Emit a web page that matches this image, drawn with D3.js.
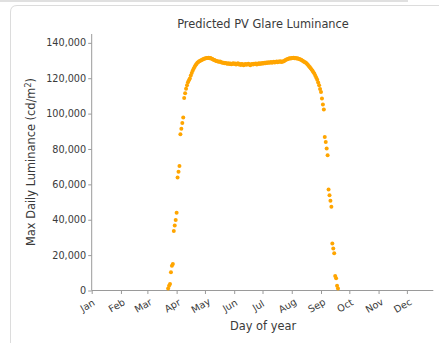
<!DOCTYPE html>
<html><head><meta charset="utf-8">
<script src="https://cdn.jsdelivr.net/npm/d3@7"></script>
<style>
html,body{margin:0;padding:0;background:#fff;}
svg{display:block;font-family:"DejaVu Sans",sans-serif;}
</style></head>
<body>
<svg id="c" width="439" height="343"></svg>
<script>
// ---- data ----
const monthLabels = ["Jan","Feb","Mar","Apr","May","Jun","Jul","Aug","Sep","Oct","Nov","Dec"];
const monthStartDays = [0,31,59,90,120,151,181,212,243,273,304,334];
const yTicks = [0,20000,40000,60000,80000,100000,120000,140000];
const firstDay = 81;
const luminance = [
 1200,2700,3700,10300,14000,15000,33600,36800,39800,43900,
 63900,67100,70400,88300,91500,94700,97800,108800,111500,114100,
 116000,117700,118900,119800,121500,123000,124200,125300,126400,127300,
 128000,128700,129200,129600,129900,130200,130500,130700,131000,131200,
 131300,131500,131400,131600,131300,131400,131000,130800,130400,130300,
 130000,129800,129600,129500,129300,129400,129000,128900,128700,128800,
 128500,128600,128300,128200,128500,128100,128300,127900,128200,128400,
 128000,128300,127700,128100,128400,127800,128000,127500,128100,127900,
 127300,127700,128000,127600,127900,128200,127800,127400,127900,128100,
 127700,128200,128000,128300,127800,128100,128400,128000,128500,128200,
 128600,128300,128700,128500,128900,128600,129000,128700,128900,129200,
 128800,129100,129300,128900,129200,129500,129100,129400,129300,129600,
 129200,129500,129400,129800,130100,130400,130700,130900,131100,131300,
 131200,131500,131400,131600,131300,131500,131200,131300,131000,130900,
 130600,130400,130000,129700,129300,129100,128700,128200,127600,126900,
 126300,125600,124900,124200,123400,122500,121400,120300,119200,117600,
 116000,113900,112200,108500,105100,102300,86800,84000,80300,76500,
 57100,53900,50700,47300,26600,23800,21000,8200,6900,2700,
 1200
];
const days = luminance.map((v,i)=>firstDay+i);

// ---- chart ----
const svg = d3.select("#c");

// notebook-like card borders
svg.append("line").attr("x1",0).attr("x2",408).attr("y1",1).attr("y2",1)
  .attr("stroke","#d6d6d6").attr("stroke-width",1.5);
svg.append("path").attr("d","M10.5,343 L10.5,12 Q10.5,5.5 17,5.5 L439,5.5")
  .attr("fill","none").attr("stroke","#dcdcdc").attr("stroke-width",1);

const x = d3.scaleLinear().domain([0,362]).range([91.7,433.3]);
const y = d3.scaleLinear().domain([0,145000]).range([290.5,34]);

const textCol = "#3a3a3a", axisCol = "#9a9a9a";

// y axis
const yAxis = svg.append("g").attr("transform","translate(91.7,0)")
  .call(d3.axisLeft(y).tickValues(yTicks).tickFormat(d3.format(",")).tickSize(3.5).tickPadding(2));
// x axis
const xAxis = svg.append("g").attr("transform","translate(0,290.5)")
  .call(d3.axisBottom(x).tickValues(monthStartDays).tickFormat((d,i)=>monthLabels[i]).tickSize(3.5));
[yAxis,xAxis].forEach(a=>{
  a.selectAll(".tick line").attr("stroke",axisCol);
  a.selectAll(".tick text").attr("fill",textCol).style("font-size","9.7px").style("font-family","DejaVu Sans");
});
yAxis.select(".domain").remove();
xAxis.select(".domain").remove();
svg.append("line").attr("x1",91.7).attr("x2",91.7).attr("y1",y.range()[1]).attr("y2",290.5).attr("stroke",axisCol);
svg.append("line").attr("x1",91.7).attr("x2",433.3).attr("y1",290.5).attr("y2",290.5).attr("stroke",axisCol);

xAxis.selectAll(".tick text")
  .attr("text-anchor","middle").attr("y",0).attr("dy",0)
  .attr("transform","translate(-3,18) rotate(-30)");

// points
svg.append("g").selectAll("circle").data(luminance).join("circle")
  .attr("cx",(d,i)=>x(days[i])).attr("cy",d=>y(d)).attr("r",2)
  .attr("fill","#ffa500");

// title and labels
svg.append("text").attr("x",263).attr("y",28).attr("text-anchor","middle")
  .attr("fill",textCol).style("font-size","11.4px").text("Predicted PV Glare Luminance");
svg.append("text").attr("x",263).attr("y",329.5).attr("text-anchor","middle")
  .attr("fill",textCol).style("font-size","11.4px").text("Day of year");
const yl = svg.append("text").attr("transform","translate(35,162) rotate(-90)")
  .attr("text-anchor","middle").attr("fill",textCol).style("font-size","11.4px");
yl.append("tspan").text("Max Daily Luminance (cd/m");
yl.append("tspan").attr("dy",-4).style("font-size","8px").text("2");
yl.append("tspan").attr("dy",4).text(")");
</script>
</body></html>
